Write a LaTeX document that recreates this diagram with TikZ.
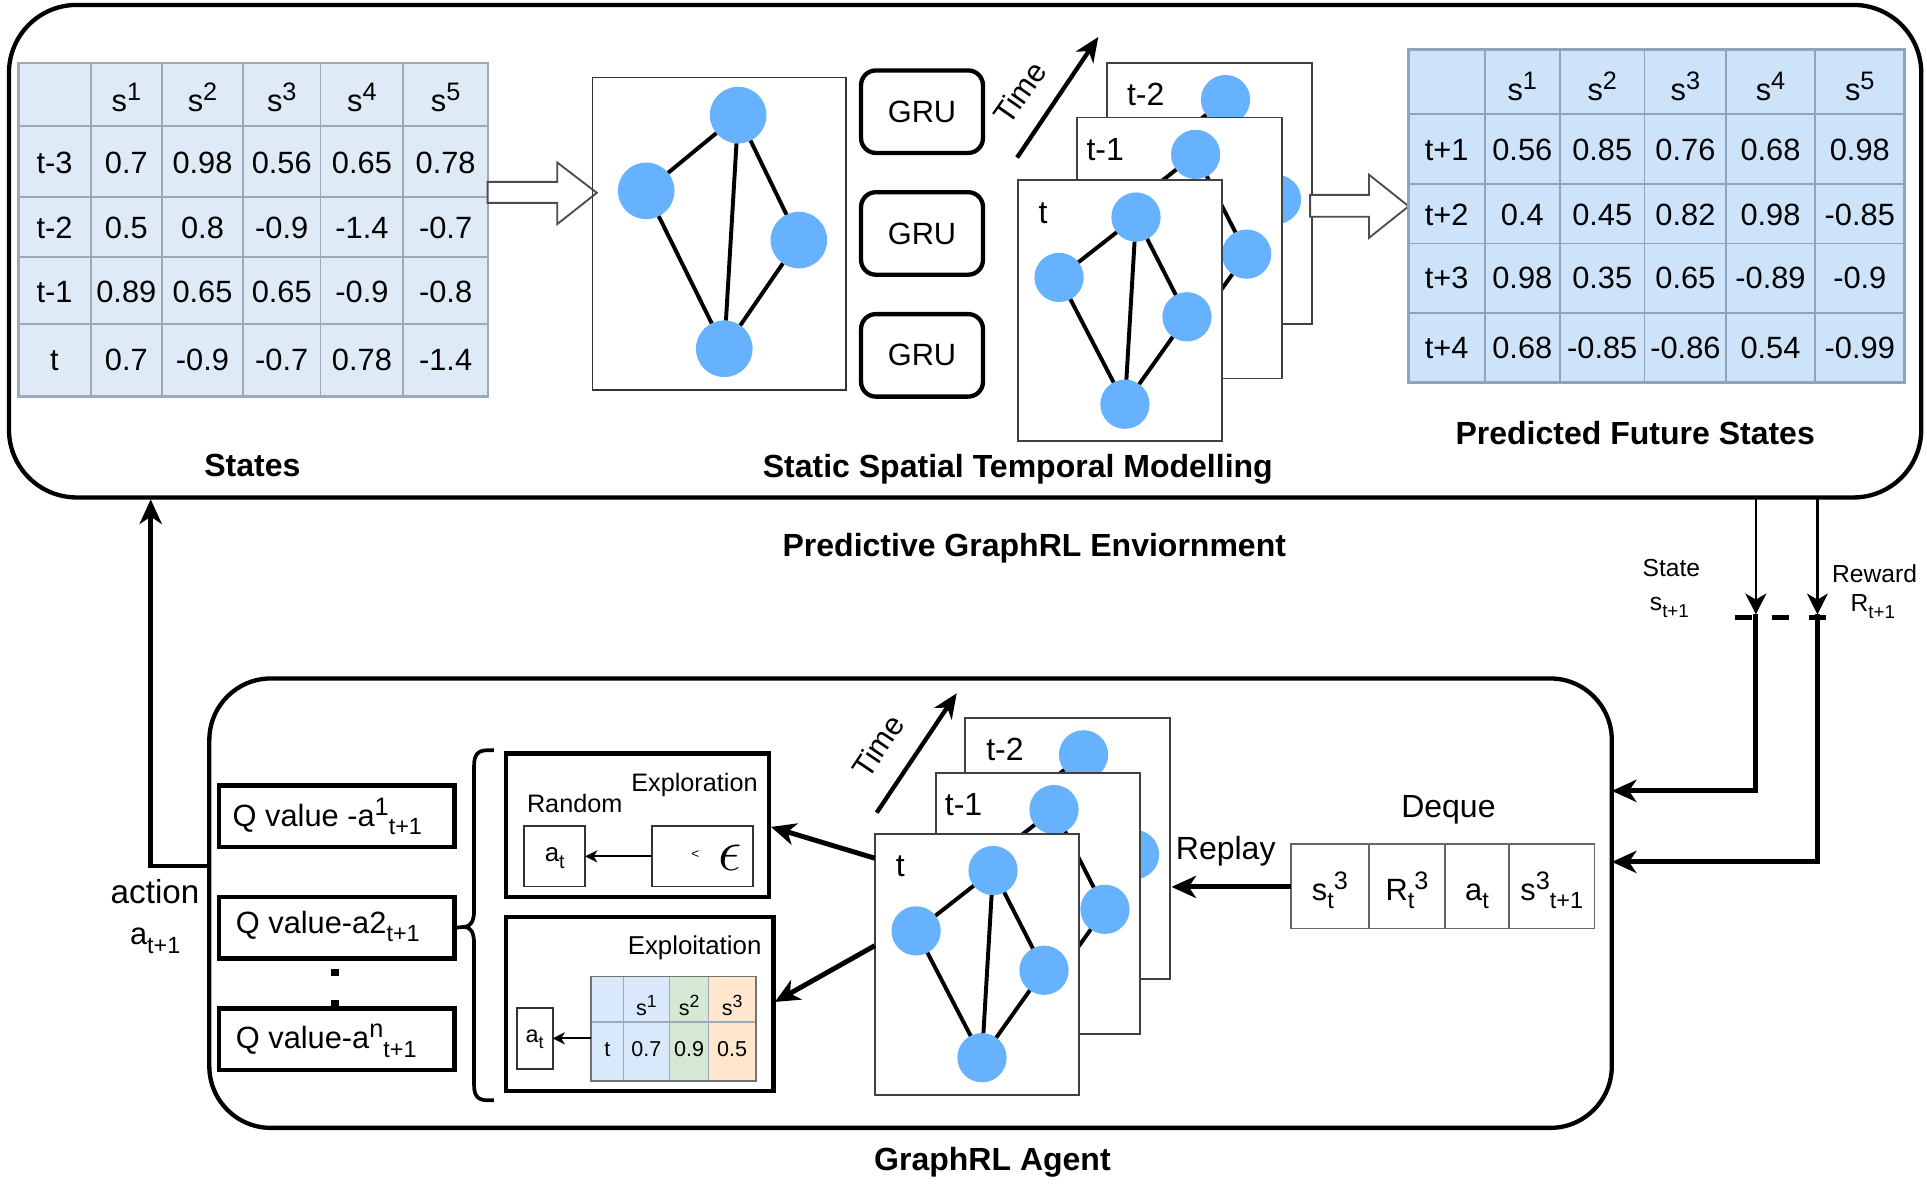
\documentclass[tikz,border=0pt]{standalone}
\usepackage{fix-cm}
\usepackage{graphicx}
\usepackage{fontspec}
\setmainfont{Liberation Sans}
\usetikzlibrary{arrows.meta}
\newcommand\fsz[1]{\fontsize{#1}{#1}\selectfont}
\newcommand\sbs[1]{\raisebox{-0.28em}{\scalebox{0.76}{#1}}}
\newcommand\sps[1]{\raisebox{0.36em}{\scalebox{0.82}{#1}}}
\definecolor{gnode}{HTML}{66B2FF}
\definecolor{ltfill}{HTML}{DFEAF7}
\definecolor{rtfill}{HTML}{CCE3FA}
\definecolor{tline}{HTML}{9DA9B8}
\definecolor{rline}{HTML}{8FA3BA}
\definecolor{sblue}{HTML}{DAE8FC}
\definecolor{sgreen}{HTML}{D5E8D4}
\definecolor{sorange}{HTML}{FFE6CC}
\newcommand\card[5]{%
  \node[cardbox] (#1) at (#2,#3) {};
  \node[gn] (#1-a) at (#2+96,#3+30) {};
  \node[gn] (#1-b) at (#2+33.5,#3+79) {};
  \node[gn] (#1-c) at (#2+137.4,#3+111) {};
  \node[gn] (#1-d) at (#2+87,#3+182) {};
  \draw[gedge] (#1-b) -- (#1-a) -- (#1-c) -- (#1-d) -- (#1-b) (#1-a) -- (#1-d);
  \node[cardlbl] (#1-l) at (#2+#4,#3+35) {#5};
}
\begin{document}
\begin{tikzpicture}[x=1pt,y=-1pt,
  every node/.style={inner sep=0pt, outer sep=0pt},
  bigbox/.style={draw, line width=3.5pt, anchor=north west},
  thinbox/.style={draw=black!80, line width=1.5pt, anchor=north west},
  cardbox/.style={draw=black!75, line width=1.5pt, fill=white, minimum width=166pt, minimum height=212pt, anchor=north west},
  gn/.style={circle, fill=gnode, minimum size=40pt},
  gnbig/.style={circle, fill=gnode, minimum size=46pt},
  gedge/.style={line width=3.2pt},
  cardlbl/.style={font=\fsz{26}, anchor=base west},
  grubox/.style={draw, line width=3.5pt, rounded corners=12pt, minimum width=99pt, minimum height=67pt, font=\fsz{25}},
  qbox/.style={draw, line width=3.5pt, minimum width=191pt, minimum height=50pt, anchor=north west},
  qtxt/.style={font=\fsz{25}, anchor=base west},
  cell/.style={font=\fsz{25}, anchor=base},
  scell/.style={font=\fsz{17.5}, anchor=base},
  title/.style={font=\bfseries\fsz{26}, anchor=base},
  deqcell/.style={draw=black!60, line width=1.5pt, minimum height=68.5pt, anchor=north west},
  arr/.style={line width=4pt, -{Stealth[length=20pt,width=18pt,inset=6pt]}},
  thinarr/.style={line width=2pt, -{Stealth[length=17pt,width=17pt,inset=5pt]}},
  smallarr/.style={line width=1.5pt, -{Stealth[length=10pt,width=10pt,inset=3pt]}},
  hollow/.style={draw=black!70, line width=1.5pt, fill=white, line join=miter},
]
\useasboundingbox (0,0) rectangle (1565,962.4);

% ---------- environment box ----------
\node[bigbox, rounded corners=55pt, minimum width=1553pt, minimum height=400pt] (env) at (7.3,4) {};
\node[title] (envlbl) at (840,452) {Predictive GraphRL Enviornment};

% ---------- states table ----------
\node[draw=tline, line width=2pt, fill=ltfill, anchor=north west, minimum width=381.3pt, minimum height=271pt] (LT) at (14.9,51) {};
\foreach \x in {73.6,131.6,197.3,260.3,327.6} \draw[tline, line width=1.5pt] (\x,51) -- (\x,322);
\foreach \y in {102.4,159.9,208.7,263.4} \draw[tline, line width=1.5pt] (14.9,\y) -- (396.2,\y);
\foreach \cx/\txt [count=\c] in {102.6/{s\sps{1}},164.45/{s\sps{2}},228.8/{s\sps{3}},293.95/{s\sps{4}},361.9/{s\sps{5}}}
  \node[cell] (L0-\c) at (\cx,90.8) {\txt};
\foreach \cx/\txt [count=\c] in {44.25/t-3,102.6/0.7,164.45/0.98,228.8/0.56,293.95/0.65,361.9/0.78}
  \node[cell] (L1-\c) at (\cx,141) {\txt};
\foreach \cx/\txt [count=\c] in {44.25/t-2,102.6/0.5,164.45/0.8,228.8/-0.9,293.95/-1.4,361.9/-0.7}
  \node[cell] (L2-\c) at (\cx,193.8) {\txt};
\foreach \cx/\txt [count=\c] in {44.25/t-1,102.6/0.89,164.45/0.65,228.8/0.65,293.95/-0.9,361.9/-0.8}
  \node[cell] (L3-\c) at (\cx,245.3) {\txt};
\foreach \cx/\txt [count=\c] in {44.25/t,102.6/0.7,164.45/-0.9,228.8/-0.7,293.95/0.78,361.9/-1.4}
  \node[cell] (L4-\c) at (\cx,300.8) {\txt};
\node[title] (stlbl) at (205,387) {States};

% hollow arrow 1
\draw[hollow] (396,147.7) -- (452.6,147.7) -- (452.6,132) -- (484.7,156.6) -- (452.6,182) -- (452.6,164.8) -- (396,164.8) -- cycle;

% ---------- static graph ----------
\node[thinbox, minimum width=206pt, minimum height=254pt] (sbox) at (481.2,62.9) {};
\node[gnbig] (sa) at (599.5,93.5) {};
\node[gnbig] (sb) at (524.8,155) {};
\node[gnbig] (sc) at (648.8,195) {};
\node[gnbig] (sd) at (588.2,283.2) {};
\draw[gedge] (sb) -- (sa) -- (sc) -- (sd) -- (sb) (sa) -- (sd);

% ---------- GRUs ----------
\node[grubox] (g1) at (748.8,90.7) {GRU};
\node[grubox] (g2) at (748.8,189.6) {GRU};
\node[grubox] (g3) at (748.8,288.6) {GRU};

% time arrow (top)
\coordinate (t1s) at (826,128);
\coordinate (t1e) at (892,30);
\draw[line width=3.5pt, -{Stealth[length=20pt,width=17pt,inset=6pt]}] (t1s) -- (t1e);
\node[font=\fsz{25}, rotate=55] (time1) at (828,75) {Time};

% cards (top)
\card{ca}{899.3}{50.9}{16}{t-2}
\card{cb}{875}{95.4}{7.4}{t-1}
\card{cc}{826.6}{146.3}{17}{t}
\node[title] (sstm) at (826.6,387.5) {Static Spatial Temporal Modelling};

% hollow arrow 2
\draw[hollow] (1064,158.3) -- (1111.8,158.3) -- (1111.8,141.9) -- (1144,167.5) -- (1111.8,193.2) -- (1111.8,176) -- (1064,176) -- cycle;

% ---------- predicted table ----------
\node[draw=rline, line width=2.5pt, fill=rtfill, anchor=north west, minimum width=402.8pt, minimum height=270.7pt] (RT) at (1144.2,40.3) {};
\foreach \x in {1205.7,1266.9,1335.6,1402,1473.8} \draw[rline, line width=1.5pt] (\x,40.3) -- (\x,311);
\foreach \y in {92.3,149.7,197.7,254} \draw[rline, line width=1.5pt] (1144.2,\y) -- (1547,\y);
\foreach \cx/\txt [count=\c] in {1236.3/{s\sps{1}},1301.25/{s\sps{2}},1368.8/{s\sps{3}},1437.9/{s\sps{4}},1510.4/{s\sps{5}}}
  \node[cell] (R0-\c) at (\cx,82) {\txt};
\foreach \cx/\txt [count=\c] in {1174.95/t+1,1236.3/0.56,1301.25/0.85,1368.8/0.76,1437.9/0.68,1510.4/0.98}
  \node[cell] (R1-\c) at (\cx,130.4) {\txt};
\foreach \cx/\txt [count=\c] in {1174.95/t+2,1236.3/0.4,1301.25/0.45,1368.8/0.82,1437.9/0.98,1510.4/-0.85}
  \node[cell] (R2-\c) at (\cx,183.4) {\txt};
\foreach \cx/\txt [count=\c] in {1174.95/t+3,1236.3/0.98,1301.25/0.35,1368.8/0.65,1437.9/-0.89,1510.4/-0.9}
  \node[cell] (R3-\c) at (\cx,234.7) {\txt};
\foreach \cx/\txt [count=\c] in {1174.95/t+4,1236.3/0.68,1301.25/-0.85,1368.8/-0.86,1437.9/0.54,1510.4/-0.99}
  \node[cell] (R4-\c) at (\cx,291) {\txt};
\node[title] (pfs) at (1328,360.7) {Predicted Future States};

% ---------- agent box ----------
\node[bigbox, rounded corners=50pt, minimum width=1139pt, minimum height=365pt] (agent) at (170,551) {};
\node[title] (agentlbl) at (806,951) {GraphRL Agent};

% state / reward connectors
\coordinate (stTop) at (1426,405);
\coordinate (stMid) at (1426,499);
\coordinate (stIn) at (1309,642.3);
\coordinate (rwTop) at (1476,405);
\coordinate (rwMid) at (1476,499);
\coordinate (rwIn) at (1309,700);
\draw[thinarr] (stTop) -- (stMid);
\draw[thinarr] (rwTop) -- (rwMid);
\draw[line width=4pt, -{Stealth[length=20pt,width=18pt,inset=6pt]}] (stMid) |- (stIn);
\draw[line width=4pt, -{Stealth[length=20pt,width=18pt,inset=6pt]}] (rwMid) |- (rwIn);
\coordinate (dshL) at (1409,501.5);
\coordinate (dshR) at (1484,501.5);
\draw[line width=3.5pt, dash pattern=on 14pt off 16pt] (dshL) -- (dshR);
\node[font=\fsz{20}, anchor=base west] (stl) at (1334,468.5) {State};
\node[font=\fsz{20}, anchor=base west] (stl2) at (1340,495.5) {s\sbs{t+1}};
\node[font=\fsz{20}, anchor=base west] (rwl) at (1488,473.3) {Reward};
\node[font=\fsz{20}, anchor=base west] (rwl2) at (1503,497) {R\sbs{t+1}};

% action connector
\coordinate (actStart) at (170,703.3);
\coordinate (actTop) at (122.4,405.5);
\draw[arr] (actStart) -| (actTop);
\node[font=\fsz{27}, anchor=base west] (actl) at (89.9,733.6) {action};
\node[font=\fsz{25}, anchor=base west] (actl2) at (105.6,767) {a\sbs{t+1}};

% Q value boxes
\node[qbox] (q1) at (178,638) {};
\node[qtxt] (q1t) at (189,671) {Q value -a\sps{1}\sbs{t+1}};
\node[qbox] (q2) at (178,728.5) {};
\node[qtxt] (q2t) at (191.6,758) {Q value-a2\sbs{t+1}};
\node[qbox] (qn) at (178,819) {};
\node[qtxt] (qnt) at (191.6,851.6) {Q value-a\sps{n}\sbs{t+1}};
\node[fill, minimum size=6pt] (dot1) at (272,790) {};
\node[fill, minimum size=6pt] (dot2) at (272,815) {};

% brace
\coordinate (btip) at (377,752.8);
\draw[line width=3pt] (q2.east) -- (btip);
\draw[line width=3pt] (401,609.3) -- (396,609.3) .. controls (388,609.3) and (385,613) .. (385,622) -- (385,740) .. controls (385,748) and (382,752.8) .. (btip) .. controls (382,752.8) and (385,757) .. (385,766) -- (385,881) .. controls (385,890) and (388,893.6) .. (396,893.6) -- (401,893.6);

% exploration
\node[draw, line width=3.5pt, minimum width=213.4pt, minimum height=116.4pt, anchor=north west] (expl) at (411,612) {};
\node[font=\fsz{20.5}, anchor=base east] (explt) at (615.3,643) {Exploration};
\node[font=\fsz{20.5}, anchor=base west] (rand) at (428,659.5) {Random};
\node[thinbox, minimum width=49.3pt, minimum height=49pt] (at1) at (425.9,671) {};
\node[font=\fsz{21}] (at1t) at (450.5,697) {a\sbs{t}};
\node[thinbox, minimum width=81.7pt, minimum height=49pt] (eps) at (529.6,671) {};
\node[font=\fsz{11}] (ltsym) at (564.7,694) {<};
\node[font=\fsz{48}] (epsy) at (593,697) {$\epsilon$};
\draw[smallarr] (eps.west) -- (at1.east);

% exploitation
\node[draw, line width=3.5pt, minimum width=217.4pt, minimum height=141pt, anchor=north west] (expt) at (410.9,745) {};
\node[font=\fsz{21}, anchor=base east] (exptt) at (618.4,775) {Exploitation};
\node[thinbox, minimum width=29.2pt, minimum height=49.4pt] (at2) at (419.6,818.6) {};
\node[font=\fsz{19}] (at2t) at (434.2,844) {a\sbs{t}};
\fill[sblue] (480,793) rectangle (543.9,877.7);
\fill[sgreen] (543.9,793) rectangle (575.5,877.7);
\fill[sorange] (575.5,793) rectangle (613.7,877.7);
\foreach \x in {506.6,543.9,575.5} \draw[tline, line width=1pt] (\x,793) -- (\x,877.7);
\draw[tline, line width=1pt] (480,830) -- (613.7,830);
\node[draw=black!55, line width=1.5pt, minimum width=133.7pt, minimum height=84.7pt, anchor=north west] (stab) at (480,793) {};
\foreach \cx/\txt [count=\c] in {525/{s\sps{1}},559.7/{s\sps{2}},594.6/{s\sps{3}}}
  \node[scell] (E0-\c) at (\cx,824.5) {\txt};
\foreach \cx/\txt [count=\c] in {493.3/t,525/0.7,559.7/0.9,594.6/0.5}
  \node[scell] (E1-\c) at (\cx,858.4) {\txt};
\draw[smallarr] (stab.west |- at2.east) -- (at2.east);

% time arrow (bottom)
\coordinate (t2s) at (712,660);
\coordinate (t2e) at (777,563);
\draw[line width=3.5pt, -{Stealth[length=20pt,width=17pt,inset=6pt]}] (t2s) -- (t2e);
\node[font=\fsz{25}, rotate=56] (time2) at (713,606) {Time};

% cards (bottom)
\card{da}{784}{583}{17}{t-2}
\card{db}{760}{627.5}{7.4}{t-1}
\card{dc}{710.5}{677}{17}{t}

% arrows to exploration / exploitation
\coordinate (e1s) at (710.5,697);
\coordinate (e1e) at (626.2,671.6);
\coordinate (e2s) at (710.5,768);
\coordinate (e2e) at (629.3,813.7);
\draw[arr] (e1s) -- (e1e);
\draw[arr] (e2s) -- (e2e);

% deque
\node[font=\fsz{26}, anchor=base west] (deql) at (1138,664) {Deque};
\node[deqcell, minimum width=63.7pt] (d1) at (1048.3,685.6) {};
\node[deqcell, minimum width=61.3pt] (d2) at (1112,685.6) {};
\node[deqcell, minimum width=52.3pt] (d3) at (1173.3,685.6) {};
\node[deqcell, minimum width=69.3pt] (d4) at (1225.6,685.6) {};
\node[cell] (d1t) at (1080,731) {s\sbs{t}\sps{3}};
\node[cell] (d2t) at (1142.6,731) {R\sbs{t}\sps{3}};
\node[cell] (d3t) at (1199.5,731) {a\sbs{t}};
\node[cell] (d4t) at (1260.2,731) {s\sps{3}\sbs{t+1}};
\node[font=\fsz{26}, anchor=base west] (repl) at (955,698) {Replay};
\coordinate (repS) at (1048.3,720.3);
\coordinate (repE) at (951.4,720.3);
\draw[arr] (repS) -- (repE);
\end{tikzpicture}
\end{document}
